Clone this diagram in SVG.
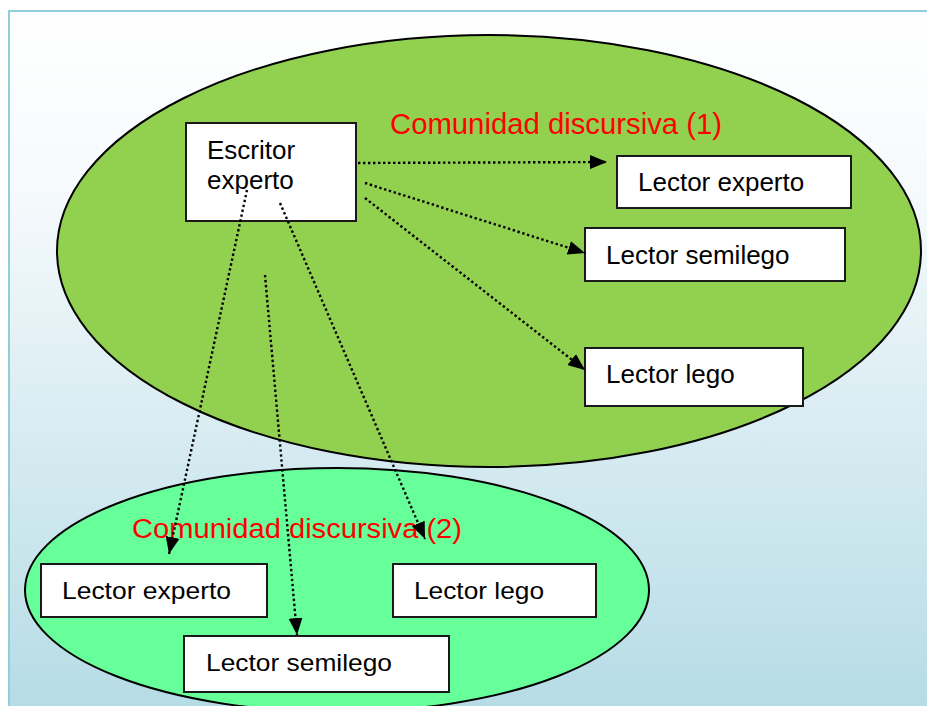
<svg xmlns="http://www.w3.org/2000/svg" width="927" height="706" viewBox="0 0 927 706">
  <defs>
    <linearGradient id="bg" x1="0" y1="0" x2="0" y2="1">
      <stop offset="0" stop-color="#ffffff"/>
      <stop offset="0.25" stop-color="#f6fafc"/>
      <stop offset="1" stop-color="#b4dbe5"/>
    </linearGradient>
    <marker id="arr" markerWidth="17" markerHeight="14" refX="17" refY="7" orient="auto" markerUnits="userSpaceOnUse">
      <path d="M0,0 L17,7 L0,14 z" fill="#000"/>
    </marker>
    <style>
      .box { fill: #ffffff; stroke: #1a1a1a; stroke-width: 2; }
      .lbl { font-family: "Liberation Sans", Arial, sans-serif; font-size: 26px; fill: #000; }
      .lbl2 { font-family: "Liberation Sans", Arial, sans-serif; font-size: 24px; fill: #000; }
      .title { font-family: "Liberation Sans", Arial, sans-serif; fill: #ff0000; }
      .ell { stroke: #000; stroke-width: 2; }
      .con { fill: none; stroke: #000; stroke-width: 2.4; stroke-dasharray: 2.4 2.6; marker-end: url(#arr); }
    </style>
  </defs>

  <rect x="0" y="0" width="927" height="706" fill="#ffffff"/>
  <rect id="frame" x="9" y="11" width="930" height="710" fill="url(#bg)" stroke="#92cddc" stroke-width="2"/>

  <g id="comunidad1">
    <ellipse class="ell" cx="489" cy="251" rx="432" ry="216" fill="#92d050"/>
    <text class="title" x="390" y="134" font-size="29" textLength="332" lengthAdjust="spacingAndGlyphs">Comunidad discursiva (1)</text>
  </g>

  <g id="comunidad2">
    <ellipse class="ell" cx="337" cy="590" rx="312" ry="122" fill="#66ff99"/>
    <text class="title" x="132" y="538" font-size="27" textLength="330" lengthAdjust="spacingAndGlyphs">Comunidad discursiva (2)</text>
  </g>

  <g id="escritor-experto">
    <rect class="box" x="186" y="123" width="170" height="98"/>
    <text class="lbl" x="207" y="159">Escritor</text>
    <text class="lbl" x="207" y="189">experto</text>
  </g>

  <g id="lector-experto-1">
    <rect class="box" x="617" y="156" width="234" height="52"/>
    <text class="lbl" x="638" y="191">Lector experto</text>
  </g>

  <g id="lector-semilego-1">
    <rect class="box" x="585" y="228" width="260" height="53"/>
    <text class="lbl" x="606" y="264">Lector semilego</text>
  </g>

  <g id="lector-lego-1">
    <rect class="box" x="585" y="348" width="218" height="58"/>
    <text class="lbl" x="606" y="383">Lector lego</text>
  </g>

  <g id="lector-experto-2">
    <rect class="box" x="41" y="564" width="226" height="53"/>
    <text class="lbl2" x="62" y="599" textLength="169" lengthAdjust="spacingAndGlyphs">Lector experto</text>
  </g>

  <g id="lector-lego-2">
    <rect class="box" x="393" y="564" width="203" height="53"/>
    <text class="lbl2" x="414" y="599" textLength="130" lengthAdjust="spacingAndGlyphs">Lector lego</text>
  </g>

  <g id="lector-semilego-2">
    <rect class="box" x="184" y="636" width="265" height="56"/>
    <text class="lbl2" x="206" y="671" textLength="186" lengthAdjust="spacingAndGlyphs">Lector semilego</text>
  </g>

  <g id="connectors">
    <line class="con" x1="358" y1="163" x2="607" y2="162"/>
    <line class="con" x1="365" y1="183" x2="585" y2="253"/>
    <line class="con" x1="365" y1="198" x2="585" y2="370"/>
    <line class="con" x1="247" y1="190" x2="169" y2="554"/>
    <line class="con" x1="280" y1="203" x2="425" y2="539"/>
    <line class="con" x1="265" y1="275" x2="297" y2="635"/>
  </g>
</svg>
